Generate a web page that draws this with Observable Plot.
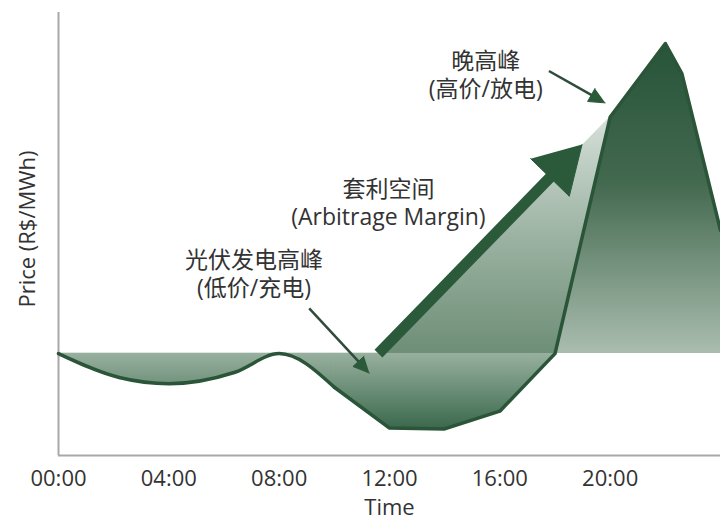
<!DOCTYPE html>
<html>
<head>
<meta charset="utf-8">
<script src="https://cdn.jsdelivr.net/npm/d3@7"></script>
<script src="https://cdn.jsdelivr.net/npm/@observablehq/plot@0.6"></script>
<style>
  html, body { margin: 0; padding: 0; background: #ffffff; }
  #chart { width: 720px; height: 522px; }
</style>
</head>
<body>
<div id="chart"></div>
<script>
// ---- data ----
const hours  = [0, 2.2, 4, 6.4, 8, 10, 12, 14, 16, 18, 20, 22, 22.6, 24];
const prices = [115, 88, 81, 94, 115, 77, 31, 30, 50, 115, 382, 465, 431, 254];
const baselinePrice = 115;
const smoothUntilHour = 10;   // the morning part of the curve is drawn smooth

const arbitrageHours  = [11.6, 20];
const arbitragePrices = [115, 382];
const arbitrageTipHour = 18.98;
const arbitrageTipPrice = 351;

const tickHours  = [0, 4, 8, 12, 16, 20];
const tickLabels = ["00:00", "04:00", "08:00", "12:00", "16:00", "20:00"];

const noteText  = ["光伏发电高峰\n(低价/充电)", "套利空间\n(Arbitrage Margin)", "晚高峰\n(高价/放电)"];
const noteHour  = [7.09, 11.96, 15.49];
const notePrice = [206, 286, 431];

const pointerFromHour  = [9.09, 17.78];
const pointerFromPrice = [166, 434];
const pointerToHour    = [11.27, 19.82];
const pointerToPrice   = [93, 398];

const xLabel = "Time";
const yLabel = "Price (R$/MWh)";

// ---- layout ----
const W = 720, H = 522, mL = 58, mR = 0, mT = 12, mB = 67;
const xDomain = [0, 24], yDomain = [0, 500];
const xS = d3.scaleLinear(xDomain, [mL, W - mR]);
const yS = d3.scaleLinear(yDomain, [H - mB, mT]);

const FONT = "'Open Sans', 'Noto Sans CJK SC', sans-serif";
const DARK = "#2a5538";

// ---- derived tables ----
const curve = hours.map((h, i) => ({h, p: prices[i]}));
const curveA = curve.filter(d => d.h <= smoothUntilHour);
const curveB = curve.filter(d => d.h >= smoothUntilHour);
const clampLow = d => ({h: d.h, p: Math.min(d.p, baselinePrice)});
const belowA = curveA.map(clampLow);
const belowB = curveB.filter(d => d.h <= 18).map(clampLow);
const arbArea = arbitrageHours.map((h, i) => ({h, p: arbitragePrices[i]}));
const peak = curve.filter(d => d.h >= 18);
const notes = noteText.map((t, i) => ({t, h: noteHour[i], p: notePrice[i]}));

// arrowhead triangles computed in screen space, converted back to data
function head(id, fromH, fromP, tipH, tipP, len, wid) {
  const fx = xS(fromH), fy = yS(fromP), tx = xS(tipH), ty = yS(tipP);
  const L = Math.hypot(tx - fx, ty - fy);
  const dx = (tx - fx) / L, dy = (ty - fy) / L;
  const bx = tx - dx * len, by = ty - dy * len;
  const px = -dy, py = dx;
  const pts = [[tx, ty], [bx + px * wid / 2, by + py * wid / 2], [bx - px * wid / 2, by - py * wid / 2]];
  return {
    verts: pts.map(([x, y]) => ({id, h: xS.invert(x), p: yS.invert(y)})),
    base: {h: xS.invert(bx + dx * 3), p: yS.invert(by + dy * 3)}
  };
}

const bigHead = head("big", arbitrageHours[0], arbitragePrices[0], arbitrageTipHour, arbitrageTipPrice, 46, 54);
const bigShaft = [{h1: arbitrageHours[0], p1: arbitragePrices[0], h2: bigHead.base.h, p2: bigHead.base.p}];

const thinHeads = pointerFromHour.map((h, i) =>
  head("t" + i, h, pointerFromPrice[i], pointerToHour[i], pointerToPrice[i], 16, 15));
const thinShafts = pointerFromHour.map((h, i) => ({h1: h, p1: pointerFromPrice[i], h2: thinHeads[i].base.h, p2: thinHeads[i].base.p}));
const headVerts = [...bigHead.verts, ...thinHeads.flatMap(d => d.verts)];

// gradients (user space so split areas share one gradient)
function defs() {
  const d = d3.create("svg:defs");
  const yBase = yS(baselinePrice);
  const grads = {
    gBelow: [yBase, yS(d3.min(prices)), [[0, "#98b09f"], [1, "#3b694d"]]],
    gArb:   [yS(d3.max(arbitragePrices)), yBase, [[0, "#d6e0d9"], [0.5, "#9cb3a3"], [1, "#6e8e77"]]],
    gPeak:  [yS(d3.max(prices)), yBase, [[0, "#27543a"], [0.45, "#43694f"], [1, "#aabdaf"]]]
  };
  for (const [id, [y1, y2, stops]] of Object.entries(grads)) {
    const g = d.append("linearGradient").attr("id", id).attr("gradientUnits", "userSpaceOnUse")
      .attr("x1", 0).attr("y1", y1).attr("x2", 0).attr("y2", y2);
    for (const [o, c] of stops) g.append("stop").attr("offset", o).attr("stop-color", c);
  }
  return d.node();
}

const lineStyle = {x: "h", y: "p", stroke: DARK, strokeWidth: 3.5, strokeLinejoin: "round", strokeLinecap: "round"};

const chart = Plot.plot({
  width: W, height: H,
  marginLeft: mL, marginRight: mR, marginTop: mT, marginBottom: mB,
  style: {fontFamily: FONT, fontSize: "23px", color: "#333", background: "#fff"},
  x: {domain: xDomain},
  y: {domain: yDomain, axis: null},
  marks: [
    defs,
    Plot.areaY(belowA, {x: "h", y1: baselinePrice, y2: "p", fill: "url(#gBelow)", stroke: "url(#gBelow)", strokeWidth: 0.8, curve: "monotone-x"}),
    Plot.areaY(belowB, {x: "h", y1: baselinePrice, y2: "p", fill: "url(#gBelow)", stroke: "url(#gBelow)", strokeWidth: 0.8}),
    Plot.areaY(arbArea, {x: "h", y1: baselinePrice, y2: "p", fill: "url(#gArb)"}),
    Plot.areaY(peak, {x: "h", y1: baselinePrice, y2: "p", fill: "url(#gPeak)"}),
    Plot.ruleX([xDomain[0]], {stroke: "#a8a8a8", strokeWidth: 2}),
    Plot.ruleY([yDomain[0]], {stroke: "#a8a8a8", strokeWidth: 2}),
    Plot.line(curveA, {...lineStyle, curve: "monotone-x"}),
    Plot.line(curveB, lineStyle),
    Plot.link(bigShaft, {x1: "h1", y1: "p1", x2: "h2", y2: "p2", stroke: "#2b5a3b", strokeWidth: 11}),
    Plot.link(thinShafts, {x1: "h1", y1: "p1", x2: "h2", y2: "p2", stroke: "#2f4c3a", strokeWidth: 2.5}),
    Plot.line(headVerts, {x: "h", y: "p", z: "id", fill: "#2b5a3b", stroke: "#2b5a3b", strokeWidth: 1, strokeLinejoin: "round"}),
    Plot.text(notes, {x: "h", y: "p", text: "t", lineHeight: 1.24, fill: "#333", fontSize: 23}),
    Plot.axisX({ticks: tickHours, tickFormat: (d) => tickLabels[tickHours.indexOf(d)], tickSize: 0, tickPadding: 15, label: null, fontSize: 22, fill: "#333"}),
    Plot.text([xLabel], {frameAnchor: "bottom", lineAnchor: "middle", dy: 52, fontSize: 22, fill: "#333"}),
    Plot.text([yLabel], {frameAnchor: "left", textAnchor: "middle", rotate: -90, dx: -31, dy: -5, fontSize: 22, fill: "#333"})
  ]
});
document.getElementById("chart").appendChild(chart);
</script>
</body>
</html>
